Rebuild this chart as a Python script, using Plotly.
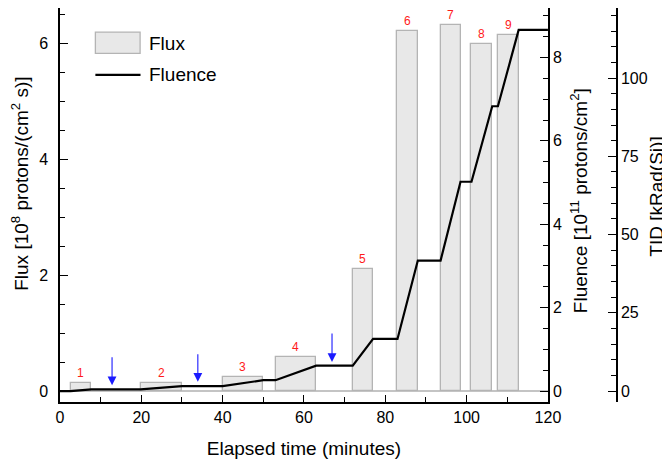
import plotly.graph_objects as go

# flux bars (start / end in minutes, flux in 1e8 protons/(cm2 s))
bar_start = [2.6, 19.8, 40.0, 53.0, 72.0, 83.0, 93.6, 101.2, 107.7]
bar_end = [7.7, 30.0, 50.0, 63.0, 77.0, 88.0, 98.5, 106.3, 112.8]
flux = [0.13, 0.13, 0.24, 0.59, 2.11, 6.21, 6.32, 6.00, 6.15]
bar_labels = ["1", "2", "3", "4", "5", "6", "7", "8", "9"]

# cumulative fluence (1e11 protons/cm2)
fl_time = [0, 2.6, 7.7, 19.8, 30, 40, 50, 53, 63, 72, 77, 83, 88, 93.6, 98.5, 101.2, 106.3, 107.7, 112.8, 120]
fluence = [0, 0, 0.04, 0.04, 0.12, 0.12, 0.26, 0.26, 0.61, 0.61, 1.25, 1.25, 3.13, 3.13, 5.02, 5.02, 6.83, 6.83, 8.66, 8.66]

# blue arrows (time, tip, tail on flux axis)
arrow_time = [12.8, 33.9, 66.9]
arrow_tip = [0.10, 0.16, 0.50]
arrow_tail = [0.61, 0.66, 1.02]

FONT = "Liberation Sans, Arial, sans-serif"

centers = [(s + e) / 2 for s, e in zip(bar_start, bar_end)]
widths = [e - s for s, e in zip(bar_start, bar_end)]

fig = go.Figure()
fig.add_trace(go.Bar(
    x=centers, y=flux, width=widths, name="Flux",
    marker=dict(color="#e8e8e8", line=dict(color="#b4b4b4", width=1.3)),
    showlegend=False,
))
fig.add_trace(go.Scatter(
    x=fl_time, y=fluence, yaxis="y2", mode="lines", name="Fluence",
    line=dict(color="black", width=2.2), showlegend=False,
))
# invisible trace to hold TID axis
fig.add_trace(go.Scatter(x=[0], y=[0], yaxis="y3", mode="markers",
                         marker=dict(opacity=0), showlegend=False, hoverinfo="skip"))

# red numbers above bars
for c, f, lab in zip(centers, flux, bar_labels):
    fig.add_annotation(x=c, y=f, text=lab, showarrow=False, yanchor="bottom", yshift=1,
                       font=dict(color="#ff1a1a", size=12, family=FONT))

# blue arrows
for t, tip, tail in zip(arrow_time, arrow_tip, arrow_tail):
    fig.add_annotation(x=t, y=tip, ax=t, ay=tail, xref="x", yref="y", axref="x", ayref="y",
                       text="", showarrow=True, arrowhead=2, arrowsize=1.6, arrowwidth=1.1,
                       arrowcolor="#1a1aff")

# legend drawn by hand
fig.add_shape(type="rect", x0=8.7, x1=19.7, y0=5.83, y1=6.2, xref="x", yref="y",
              fillcolor="#e8e8e8", line=dict(color="#b4b4b4", width=1.3))
fig.add_shape(type="line", x0=8.7, x1=19.8, y0=5.46, y1=5.46, xref="x", yref="y",
              line=dict(color="black", width=2.2))
fig.add_annotation(x=21.3, y=6.01, text="Flux", showarrow=False, xanchor="left",
                   font=dict(size=19, family=FONT, color="black"))
fig.add_annotation(x=21.3, y=5.46, text="Fluence", showarrow=False, xanchor="left",
                   font=dict(size=19, family=FONT, color="black"))

tickfont = dict(size=16, family=FONT, color="black")
titlefont = dict(size=19, family=FONT, color="black")

# vertical axis titles (paper coords: x 0 -> left axis, 1 -> TID axis)
fig.add_annotation(x=-0.071, y=0.555, xref="paper", yref="paper", xanchor="center", yanchor="middle",
                   text="Flux [10<sup>8</sup> protons/(cm<sup>2</sup> s)]",
                   textangle=-90, showarrow=False, font=titlefont)
fig.add_annotation(x=0.932, y=0.51, xref="paper", yref="paper", xanchor="center", yanchor="middle",
                   text="Fluence [10<sup>11</sup> protons/cm<sup>2</sup>]",
                   textangle=-90, showarrow=False, font=titlefont)
fig.add_annotation(x=1.071, y=0.52, xref="paper", yref="paper", xanchor="center", yanchor="middle",
                   text="TID [kRad(Si)]",
                   textangle=-90, showarrow=False, font=titlefont)

# page body adds 8px offset, so the figure is shrunk by that much
fig.update_layout(
    width=662, height=456,
    margin=dict(l=52, r=53, t=0, b=62, autoexpand=False),
    paper_bgcolor="white", plot_bgcolor="white",
    bargap=0,
    xaxis=dict(
        domain=[0, 0.876], range=[0, 120], dtick=20, tick0=0, automargin=False,
        showline=True, linecolor="black", linewidth=1.5, mirror=True,
        ticks="inside", ticklen=7, tickwidth=1.2, tickcolor="black",
        minor=dict(ticks="inside", dtick=10, ticklen=5, tickwidth=1.2, tickcolor="black"),
        showgrid=False, zeroline=False, tickfont=tickfont,
        title=dict(text="Elapsed time (minutes)", font=titlefont, standoff=17),
    ),
    yaxis=dict(
        range=[-0.19, 6.615], dtick=2, tick0=0, automargin=False,
        showline=True, linecolor="black", linewidth=1.5,
        ticks="inside", ticklen=8, tickwidth=1.2, tickcolor="black",
        minor=dict(ticks="inside", dtick=0.5, ticklen=5, tickwidth=1.2, tickcolor="black"),
        showgrid=False, zeroline=True, zerolinecolor="#c4c4c4", zerolinewidth=1.5,
        tickfont=tickfont, ticklabelstandoff=7,
    ),
    yaxis2=dict(
        overlaying="y", side="right", anchor="x", automargin=False,
        range=[-0.263, 9.187], dtick=2, tick0=0,
        showline=True, linecolor="black", linewidth=1.5,
        ticks="inside", ticklen=8, tickwidth=1.2, tickcolor="black",
        minor=dict(ticks="inside", dtick=0.5, ticklen=5, tickwidth=1.2, tickcolor="black"),
        showgrid=False, zeroline=False, tickfont=tickfont,
    ),
    yaxis3=dict(
        overlaying="y", side="right", anchor="free", position=1.0, automargin=False,
        range=[-3.51, 122.4], dtick=25, tick0=0,
        showline=True, linecolor="black", linewidth=1.5,
        ticks="inside", ticklen=8, tickwidth=1.2, tickcolor="black",
        minor=dict(ticks="inside", dtick=5, ticklen=5, tickwidth=1.2, tickcolor="black"),
        showgrid=False, zeroline=False, tickfont=tickfont,
    ),
)

fig.write_html("out.html")
